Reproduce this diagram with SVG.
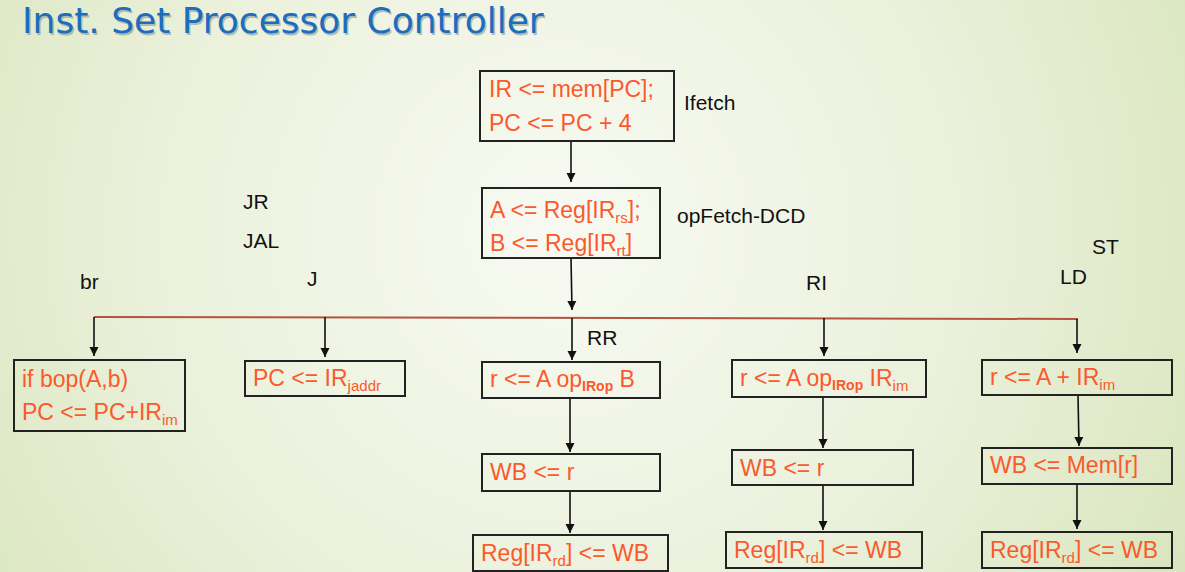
<svg xmlns="http://www.w3.org/2000/svg" width="1185" height="572" viewBox="0 0 1185 572">
<defs>
<radialGradient id="bg" cx="560" cy="230" r="720" gradientUnits="userSpaceOnUse">
<stop offset="0" stop-color="#f8faf2"/>
<stop offset="0.55" stop-color="#ebf1dc"/>
<stop offset="1" stop-color="#d9e5bd"/>
</radialGradient>
<marker id="ah" markerUnits="userSpaceOnUse" markerWidth="9" markerHeight="10" viewBox="0 0 10 10" refX="10" refY="5" orient="auto">
<path d="M0,0 L10,5 L0,10 z" fill="#111"/>
</marker>
</defs>
<style>
.box{fill:none;stroke:#222;stroke-width:2}
.t{font-family:"Liberation Sans",Arial,sans-serif;font-size:23px;fill:#fa5a2c}
.s{font-size:15px}
.op{font-size:14px;font-weight:bold;fill:#fa5a2c}
.lbl{font-family:"Liberation Sans",Arial,sans-serif;font-size:21px;fill:#111}
.ar{stroke:#111;stroke-width:1.6;fill:none;marker-end:url(#ah)}
.title{font-family:"DejaVu Sans","Noto Sans",sans-serif;font-size:36px}
</style>
<rect width="1185" height="572" fill="url(#bg)"/>
<g id="title">
<text class="title" x="23.5" y="34.5" fill="#8a9a90" opacity="0.6">Inst. Set Processor Controller</text>
<text class="title" x="22" y="33" fill="#1c6cc0">Inst. Set Processor Controller</text>
</g>
<g id="connectors">
<line class="ar" x1="571" y1="141" x2="571" y2="182"/>
<line class="ar" x1="571" y1="258" x2="572" y2="310"/>
<line x1="94" y1="317" x2="1078" y2="319" stroke="#b5533f" stroke-width="2"/>
<line class="ar" x1="94" y1="317" x2="94" y2="356"/>
<line class="ar" x1="325" y1="317" x2="325" y2="357"/>
<line class="ar" x1="572" y1="318" x2="572" y2="360"/>
<line class="ar" x1="824" y1="318" x2="824" y2="356"/>
<line class="ar" x1="1077" y1="319" x2="1077" y2="353"/>
<line class="ar" x1="570" y1="398" x2="570" y2="452"/>
<line class="ar" x1="570" y1="491" x2="570" y2="533"/>
<line class="ar" x1="823" y1="397" x2="823" y2="448"/>
<line class="ar" x1="823" y1="485" x2="823" y2="530"/>
<line class="ar" x1="1078" y1="395" x2="1079" y2="446"/>
<line class="ar" x1="1077" y1="484" x2="1077" y2="529"/>
</g>
<g id="labels">
<text class="lbl" x="684" y="110">Ifetch</text>
<text class="lbl" x="677" y="223">opFetch-DCD</text>
<text class="lbl" x="243" y="209">JR</text>
<text class="lbl" x="243" y="248">JAL</text>
<text class="lbl" x="307" y="286">J</text>
<text class="lbl" x="80" y="289">br</text>
<text class="lbl" x="806" y="290">RI</text>
<text class="lbl" x="1092" y="254">ST</text>
<text class="lbl" x="1060" y="284">LD</text>
<text class="lbl" x="587" y="345">RR</text>
</g>
<g id="ifetch">
<rect class="box" x="480" y="71" width="194" height="70"/>
<text class="t" x="489" y="97">IR &lt;= mem[PC];</text>
<text class="t" x="489" y="131">PC &lt;= PC + 4</text>
</g>
<g id="opfetch">
<rect class="box" x="482" y="188" width="178" height="70"/>
<text class="t" x="490" y="218">A &lt;= Reg[IR<tspan class="s" dy="5">rs</tspan><tspan dy="-5">];</tspan></text>
<text class="t" x="490" y="251">B &lt;= Reg[IR<tspan class="s" dy="5">rt</tspan><tspan dy="-5">]</tspan></text>
</g>
<g id="br">
<rect class="box" x="14" y="360" width="171" height="71"/>
<text class="t" x="22" y="387">if bop(A,b)</text>
<text class="t" x="22" y="420">PC &lt;= PC+IR<tspan class="s" dy="5">im</tspan></text>
</g>
<g id="j">
<rect class="box" x="245" y="361" width="160" height="35"/>
<text class="t" x="253" y="386">PC &lt;= IR<tspan class="s" dy="5">jaddr</tspan></text>
</g>
<g id="rr-exec">
<rect class="box" x="482" y="362" width="178" height="36"/>
<text class="t" x="490" y="387">r &lt;= A op<tspan class="op" dy="4">IRop</tspan><tspan dy="-4"> B</tspan></text>
</g>
<g id="rr-wb">
<rect class="box" x="482" y="454" width="178" height="37"/>
<text class="t" x="490" y="480">WB &lt;= r</text>
</g>
<g id="rr-reg">
<rect class="box" x="473" y="535" width="195" height="36"/>
<text class="t" x="481" y="561">Reg[IR<tspan class="s" dy="5">rd</tspan><tspan dy="-5">] &lt;= WB</tspan></text>
</g>
<g id="ri-exec">
<rect class="box" x="732" y="360" width="194" height="37"/>
<text class="t" x="740" y="386">r &lt;= A op<tspan class="op" dy="4">IRop</tspan><tspan dy="-4"> IR</tspan><tspan class="s" dy="5">im</tspan></text>
</g>
<g id="ri-wb">
<rect class="box" x="732" y="450" width="181" height="35"/>
<text class="t" x="740" y="476">WB &lt;= r</text>
</g>
<g id="ri-reg">
<rect class="box" x="726" y="532" width="196" height="36"/>
<text class="t" x="734" y="558">Reg[IR<tspan class="s" dy="5">rd</tspan><tspan dy="-5">] &lt;= WB</tspan></text>
</g>
<g id="ld-addr">
<rect class="box" x="982" y="360" width="190" height="35"/>
<text class="t" x="990" y="385">r &lt;= A + IR<tspan class="s" dy="5">im</tspan></text>
</g>
<g id="ld-mem">
<rect class="box" x="982" y="448" width="190" height="36"/>
<text class="t" x="990" y="473">WB &lt;= Mem[r]</text>
</g>
<g id="ld-reg">
<rect class="box" x="982" y="532" width="190" height="36"/>
<text class="t" x="990" y="558">Reg[IR<tspan class="s" dy="5">rd</tspan><tspan dy="-5">] &lt;= WB</tspan></text>
</g>
</svg>
